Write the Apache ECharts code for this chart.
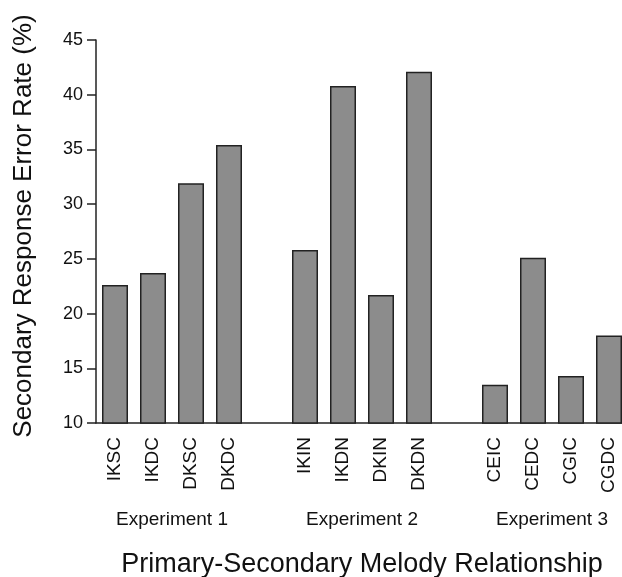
<!DOCTYPE html>
<html>
<head>
<meta charset="utf-8">
<script src="https://cdn.jsdelivr.net/npm/echarts@6/dist/echarts.min.js"></script>
<style>
  html, body { margin: 0; padding: 0; background: #fff; }
  #chart { width: 622px; height: 577px; }
</style>
</head>
<body>
<div id="chart"></div>
<script>
// one empty slot between experiments
const categories = ['IKSC', 'IKDC', 'DKSC', 'DKDC', '', 'IKIN', 'IKDN', 'DKIN', 'DKDN', '', 'CEIC', 'CEDC', 'CGIC', 'CGDC'];
const errorRates = [22.6, 23.7, 31.9, 35.4, null, 25.8, 40.8, 21.7, 42.1, null, 13.5, 25.1, 14.3, 18.0];
const groupNames = ['Experiment 1', 'Experiment 2', 'Experiment 3'];
const groupCenters = [2, 7, 12]; // in slot units, 0..14
const yTicks = [10, 15, 20, 25, 30, 35, 40, 45];

const font = '"Liberation Sans", Arial, sans-serif';
const chart = echarts.init(document.getElementById('chart'));

const option = {
  backgroundColor: '#fff',
  animation: false,
  grid: { left: 96, right: -6, top: 40, bottom: 154, containLabel: false, outerBoundsMode: 'none' },
  xAxis: [
    {
      type: 'category',
      data: categories,
      axisLine: { lineStyle: { color: '#222', width: 1.5 } },
      axisTick: { show: false },
      axisLabel: {
        rotate: 90,
        interval: 0,
        margin: 14,
        fontSize: 19,
        fontFamily: font,
        color: '#111'
      },
      name: 'Primary-Secondary Melody Relationship',
      nameLocation: 'middle',
      nameGap: 128,
      nameTextStyle: { fontSize: 27, fontFamily: font, color: '#111' }
    },
    {
      type: 'value',
      position: 'bottom',
      min: 0,
      max: categories.length,
      axisLine: { show: false },
      axisTick: { show: false },
      splitLine: { show: false },
      axisLabel: {
        customValues: groupCenters,
        margin: 87,
        fontSize: 19,
        fontFamily: font,
        color: '#111',
        formatter: (v) => groupNames[groupCenters.indexOf(v)] || ''
      }
    }
  ],
  yAxis: {
    type: 'value',
    min: yTicks[0],
    max: yTicks[yTicks.length - 1],
    interval: 5,
    axisLine: { show: true, lineStyle: { color: '#222', width: 1.5 } },
    axisTick: { show: true, inside: false, length: 9, lineStyle: { color: '#222', width: 1.5 } },
    splitLine: { show: false },
    axisLabel: { margin: 13, fontSize: 18, fontFamily: font, color: '#111' },
    name: 'Secondary Response Error Rate (%)',
    nameLocation: 'middle',
    nameGap: 59,
    nameTextStyle: { fontSize: 26, fontFamily: font, color: '#111', padding: [0, 0, 0, 11] }
  },
  series: [
    {
      type: 'bar',
      xAxisIndex: 0,
      data: errorRates,
      barWidth: 26,
      itemStyle: {
        color: '#8c8c8c',
        borderColor: '#222',
        borderWidth: 1.5
      }
    }
  ]
};

chart.setOption(option);
</script>
</body>
</html>
